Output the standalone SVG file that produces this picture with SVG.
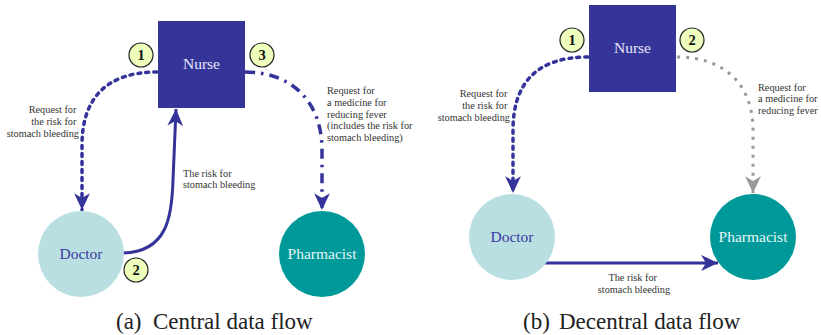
<svg xmlns="http://www.w3.org/2000/svg" width="821" height="335" viewBox="0 0 821 335">
  <style>
    .node-text { font-family: "Liberation Serif", "DejaVu Serif", serif; font-size: 15.5px; text-anchor: middle; dominant-baseline: central; }
    .label { font-family: "Liberation Serif", "DejaVu Serif", serif; font-size: 10.3px; fill: #333; }
    .caption { font-family: "Liberation Serif", "DejaVu Serif", serif; font-size: 23px; fill: #222; }
    .badge circle { fill: #eeffbb; stroke: #222; stroke-width: 1.2; }
    .badge text { font-family: "Liberation Serif", "DejaVu Serif", serif; font-size: 14.5px; font-weight: bold; fill: #111; text-anchor: middle; dominant-baseline: central; }
    .flow { fill: none; stroke: #333399; stroke-width: 3.5; }
    .dotted { stroke-dasharray: 3 5; stroke-linecap: round; }
    .dashdot { stroke-dasharray: 10 6 2.5 6; }
    .solid { stroke-width: 3; }
    .grey { stroke: #999999; stroke-width: 3; stroke-dasharray: 3 6; }
  </style>
  <defs>
    <marker id="head" markerUnits="userSpaceOnUse" markerWidth="20" markerHeight="20" viewBox="-17 -9 19 18" refX="0" refY="0" orient="auto">
      <path d="M0,0 L-16,-7.5 L-11.5,0 L-16,7.5 Z" fill="#333399"/>
    </marker>
    <marker id="head-grey" markerUnits="userSpaceOnUse" markerWidth="20" markerHeight="20" viewBox="-17 -9 19 18" refX="0" refY="0" orient="auto">
      <path d="M0,0 L-16,-7.5 L-11.5,0 L-16,7.5 Z" fill="#999999"/>
    </marker>
  </defs>

  <rect width="821" height="335" fill="#ffffff"/>

  <!-- (a) central data flow -->
  <g id="connectors-a">
    <path class="flow dotted" d="M157,72 C105,72 82,100 82,145 V210" marker-end="url(#head)"/>
    <path class="flow dashdot" d="M245,72 C290,72 322,100 322,150 V210" marker-end="url(#head)"/>
    <path class="flow solid" d="M123,253 C168,252 172,215 173,180 L176,109" marker-end="url(#head)"/>
  </g>

  <g id="nurse-a">
    <rect x="158" y="21" width="87" height="87" fill="#353599"/>
    <text class="node-text" x="201.5" y="63" fill="#e8e8f8">Nurse</text>
  </g>
  <g id="doctor-a">
    <circle cx="81" cy="254" r="43" fill="#b9dfe3"/>
    <text class="node-text" x="81" y="253" fill="#3a3aa0">Doctor</text>
  </g>
  <g id="pharmacist-a">
    <circle cx="322" cy="254" r="43" fill="#009999"/>
    <text class="node-text" x="322" y="253" fill="#e6f6f6">Pharmacist</text>
  </g>

  <g id="badge-a1" class="badge">
    <circle cx="141" cy="55" r="12"/>
    <text x="141" y="55">1</text>
  </g>
  <g id="badge-a2" class="badge">
    <circle cx="136" cy="270" r="12"/>
    <text x="136" y="270">2</text>
  </g>
  <g id="badge-a3" class="badge">
    <circle cx="262" cy="55" r="12"/>
    <text x="262" y="55">3</text>
  </g>

  <g id="labels-a">
    <text class="label" text-anchor="end">
      <tspan x="79" y="113">Request for</tspan>
      <tspan x="79" y="125">the risk for</tspan>
      <tspan x="79" y="137">stomach bleeding</tspan>
    </text>
    <text class="label">
      <tspan x="327" y="94">Request for</tspan>
      <tspan x="327" y="106">a medicine for</tspan>
      <tspan x="327" y="117.5">reducing fever</tspan>
      <tspan x="327" y="129">(includes the risk for</tspan>
      <tspan x="327" y="141">stomach bleeding)</tspan>
    </text>
    <text class="label">
      <tspan x="183" y="177">The risk for</tspan>
      <tspan x="183" y="188">stomach bleeding</tspan>
    </text>
  </g>
  <text class="caption" y="329"><tspan x="116">(a)</tspan><tspan x="153">Central data flow</tspan></text>

  <!-- (b) decentral data flow -->
  <g id="connectors-b">
    <path class="flow dotted" d="M588,57 C535,57 513,85 513,130 V193" marker-end="url(#head)"/>
    <path class="flow grey" d="M677,57 C725,57 753,85 753,130 V193" marker-end="url(#head-grey)"/>
    <path class="flow solid" d="M545,263 H718" marker-end="url(#head)"/>
  </g>

  <g id="nurse-b">
    <rect x="589" y="5" width="87" height="87" fill="#353599"/>
    <text class="node-text" x="632.5" y="47" fill="#e8e8f8">Nurse</text>
  </g>
  <g id="doctor-b">
    <circle cx="512" cy="237" r="43" fill="#b9dfe3"/>
    <text class="node-text" x="512" y="236" fill="#3a3aa0">Doctor</text>
  </g>
  <g id="pharmacist-b">
    <circle cx="753" cy="237" r="43" fill="#009999"/>
    <text class="node-text" x="753" y="236" fill="#e6f6f6">Pharmacist</text>
  </g>

  <g id="badge-b1" class="badge">
    <circle cx="572" cy="40" r="12"/>
    <text x="572" y="40">1</text>
  </g>
  <g id="badge-b2" class="badge">
    <circle cx="692" cy="40" r="12"/>
    <text x="692" y="40">2</text>
  </g>

  <g id="labels-b">
    <text class="label" text-anchor="end">
      <tspan x="510" y="97">Request for</tspan>
      <tspan x="510" y="109">the risk for</tspan>
      <tspan x="510" y="121">stomach bleeding</tspan>
    </text>
    <text class="label">
      <tspan x="758" y="91">Request for</tspan>
      <tspan x="758" y="102">a medicine for</tspan>
      <tspan x="758" y="113.5">reducing fever</tspan>
    </text>
    <text class="label" text-anchor="middle">
      <tspan x="634" y="281">The risk for</tspan>
      <tspan x="634" y="293">stomach bleeding</tspan>
    </text>
  </g>
  <text class="caption" y="329"><tspan x="523">(b)</tspan><tspan x="559">Decentral data flow</tspan></text>
</svg>
